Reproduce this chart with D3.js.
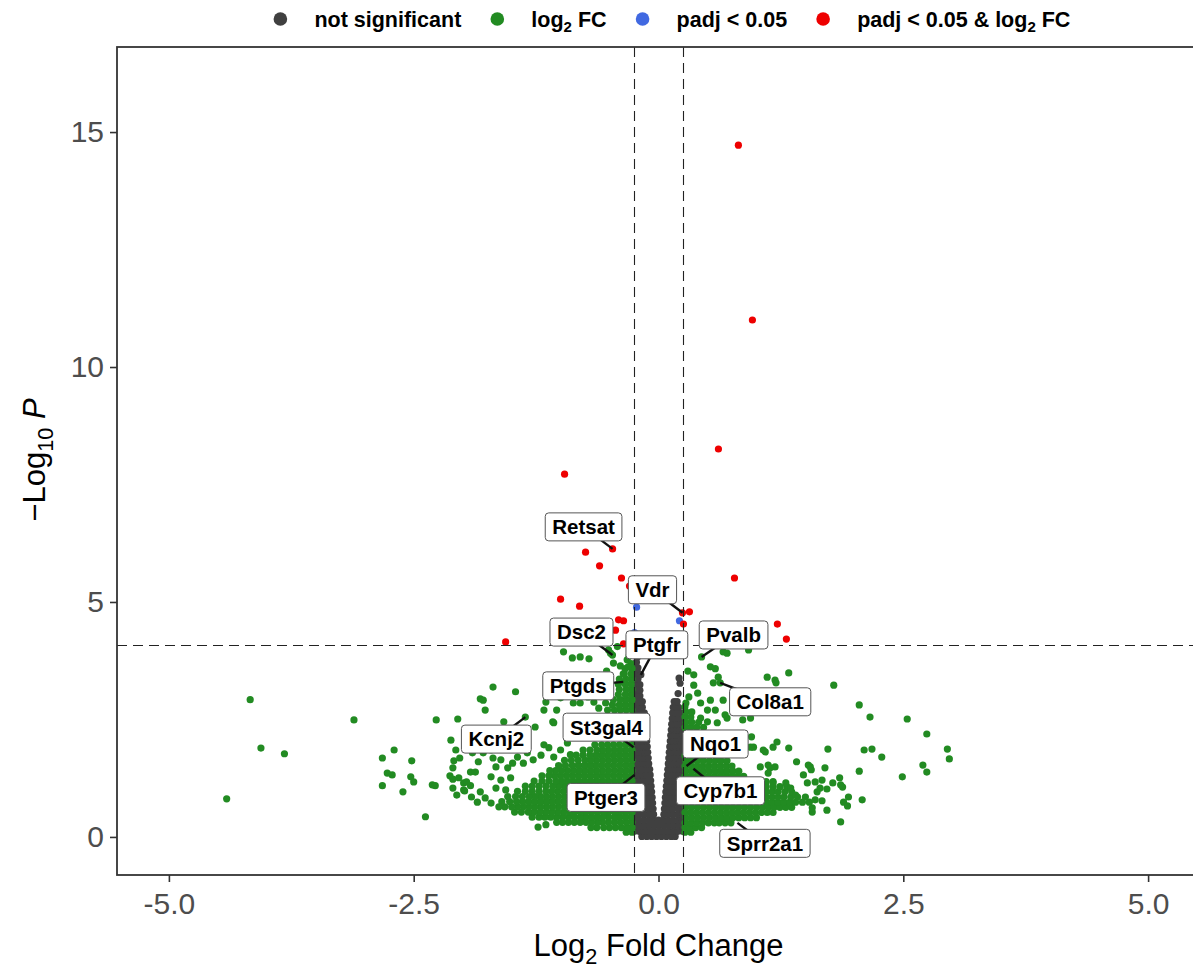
<!DOCTYPE html>
<html><head><meta charset="utf-8">
<script src="https://d3js.org/d3.v7.min.js"></script>
<style>
html,body{margin:0;padding:0;background:#fff;}
svg{display:block;font-family:"Liberation Sans",Arial,Helvetica,sans-serif;}
</style></head>
<body><svg id="chart" width="1193" height="969"></svg>
<script>
// ================= DATA =================
const xTicks = [-5, -2.5, 0, 2.5, 5];
const yTicks = [0, 5, 10, 15];
const fcCutoff = 0.25;
const pCutoff = 4.08;
const legendLabels = ["not significant", "log{2} FC", "padj < 0.05", "padj < 0.05 & log{2} FC"];
const groupColors = ["#404040", "#228B22", "#4169E1", "#EE0000"];

// not significant (grey): rows of [ -log10P, [log2FC ...] ]
const notSigRows = [
 [0.01,[-0.17,-0.12,-0.07,-0.02,0.03,0.08,0.13,0.17]],
 [0.12,[-0.245,-0.2,-0.15,-0.1,-0.05,0,0.05,0.1,0.15,0.2,0.245]],
 [0.24,[-0.24,-0.19,-0.14,-0.09,-0.04,0.01,0.06,0.11,0.16,0.21,0.245]],
 [0.36,[-0.245,-0.2,-0.15,-0.1,-0.05,0,0.05,0.1,0.15,0.2,0.245]],
 [0.48,[-0.24,-0.19,-0.14,-0.09,-0.05,0.055,0.1,0.15,0.2,0.245]],
 [0.6,[-0.245,-0.2,-0.15,-0.1,-0.055,0.06,0.105,0.15,0.2,0.245]],
 [0.72,[-0.24,-0.19,-0.145,-0.1,-0.06,0.065,0.11,0.155,0.2,0.245]],
 [0.84,[-0.245,-0.2,-0.155,-0.11,-0.065,0.07,0.115,0.16,0.2,0.245]],
 [0.96,[-0.24,-0.195,-0.15,-0.11,-0.07,0.075,0.12,0.16,0.205,0.245]],
 [1.08,[-0.245,-0.2,-0.16,-0.115,-0.075,0.08,0.12,0.165,0.205,0.245]],
 [1.2,[-0.24,-0.2,-0.16,-0.12,-0.08,0.085,0.125,0.165,0.205,0.245]],
 [1.32,[-0.245,-0.205,-0.165,-0.125,-0.085,0.09,0.13,0.17,0.21,0.245]],
 [1.44,[-0.24,-0.2,-0.165,-0.13,-0.09,0.095,0.135,0.17,0.21,0.245]],
 [1.56,[-0.245,-0.205,-0.17,-0.135,-0.1,0.1,0.135,0.175,0.21,0.245]],
 [1.68,[-0.24,-0.205,-0.17,-0.135,-0.105,0.105,0.14,0.175,0.21,0.245]],
 [1.8,[-0.245,-0.21,-0.175,-0.14,-0.11,0.11,0.145,0.18,0.215,0.245]],
 [1.92,[-0.24,-0.205,-0.175,-0.145,-0.115,0.115,0.15,0.18,0.215,0.245]],
 [2.04,[-0.245,-0.21,-0.18,-0.15,-0.12,0.12,0.15,0.185,0.215,0.245]],
 [2.16,[-0.24,-0.21,-0.18,-0.15,-0.125,0.125,0.155,0.185,0.215,0.245]],
 [2.28,[-0.245,-0.215,-0.185,-0.155,-0.13,0.13,0.16,0.19,0.22,0.245]],
 [2.4,[-0.24,-0.21,-0.185,-0.16,-0.135,0.135,0.165,0.19,0.22,0.245]],
 [2.52,[-0.245,-0.215,-0.19,-0.165,-0.14,0.14,0.17,0.2,0.225]],
 [2.64,[-0.24,-0.215,-0.19,-0.165,-0.145,0.145,0.175,0.2,0.23]],
 [2.76,[-0.245,-0.215,-0.19,-0.165,0.15,0.18,0.205]],
 [2.88,[-0.24,-0.21,-0.185,-0.165,0.16,0.19]],
 [3.0,[-0.245,-0.215,-0.19]],
 [3.12,[-0.24,-0.21,-0.19]],
 [3.24,[-0.245,-0.215,-0.19]],
 [3.36,[-0.24,-0.21]],
 [3.48,[-0.235,-0.205]],
 [3.6,[-0.24,-0.21]],
 [3.72,[-0.225]]
];
const notSigExtra = [[-0.18,3.45],[0.21,3.38],[0.22,3.27],[-0.21,3.84],[0.2,3.05]];

// log2 FC only (green): dense rows
const log2fcRows = [
 [0.1,[-0.27,-0.33]],
 [0.2,[-0.27,-0.32,-0.38,-0.44,-0.5,-0.56,-0.63,-0.69]],
 [0.31,[-0.27,-0.33,-0.39,-0.45,-0.51,-0.57,-0.62,-0.68,-0.74,-0.8,-0.86,-0.92,-0.98,-1.04]],
 [0.42,[-0.28,-0.34,-0.4,-0.45,-0.51,-0.57,-0.63,-0.69,-0.75,-0.8,-0.86,-0.92,-0.98,-1.04,-1.1,-1.16,-1.22,-1.29]],
 [0.53,[-0.27,-0.33,-0.39,-0.45,-0.51,-0.56,-0.62,-0.68,-0.74,-0.8,-0.86,-0.91,-0.97,-1.03,-1.09,-1.15,-1.21,-1.27,-1.33,-1.4,-1.47]],
 [0.64,[-0.9,-0.96,-1.02,-1.08,-1.14,-1.2,-1.26,-1.32,-1.38,-1.44,-1.5,-1.57]],
 [0.75,[-0.91,-0.97,-1.03,-1.09,-1.15,-1.21,-1.27,-1.33,-1.39,-1.45,-1.52,-1.6]],
 [0.86,[-0.9,-0.96,-1.02,-1.08,-1.14,-1.2,-1.26,-1.32,-1.39,-1.46,-1.54]],
 [0.97,[-0.91,-0.97,-1.03,-1.09,-1.15,-1.22,-1.29,-1.36,-1.44]],
 [1.08,[-0.9,-0.96,-1.02,-1.08,-1.15,-1.22,-1.29,-1.36]],
 [1.19,[-0.27,-0.33,-0.39,-0.45,-0.51,-0.57,-0.63,-0.69,-0.75,-0.81,-0.87,-0.93,-0.99,-1.05,-1.12,-1.19,-1.27]],
 [1.3,[-0.28,-0.34,-0.4,-0.46,-0.52,-0.58,-0.64,-0.7,-0.76,-0.82,-0.88,-0.94,-1.0,-1.06,-1.12,-1.19]],
 [1.41,[-0.27,-0.33,-0.39,-0.45,-0.51,-0.57,-0.63,-0.69,-0.75,-0.81,-0.87,-0.93,-0.99,-1.05,-1.11]],
 [1.52,[-0.28,-0.34,-0.4,-0.46,-0.52,-0.58,-0.64,-0.7,-0.76,-0.82,-0.88,-0.95,-1.02]],
 [1.63,[-0.27,-0.33,-0.39,-0.45,-0.51,-0.57,-0.63,-0.69,-0.75,-0.82,-0.89,-0.96]],
 [1.74,[-0.28,-0.34,-0.4,-0.46,-0.52,-0.58,-0.64,-0.7,-0.77,-0.84]],
 [1.85,[-0.27,-0.33,-0.39,-0.45,-0.51,-0.57,-0.63,-0.7,-0.77]],
 [1.96,[-0.28,-0.34,-0.4,-0.46,-0.52,-0.58,-0.65]],
 [2.7,[-0.27,-0.33,-0.39,-0.45,-0.52]],
 [2.81,[-0.28,-0.34,-0.4,-0.47]],
 [2.92,[-0.27,-0.33,-0.39,-0.46]],
 [3.03,[-0.28,-0.34,-0.41]],
 [3.14,[-0.27,-0.33,-0.4]],
 [3.25,[-0.28,-0.34,-0.41]],
 [3.36,[-0.27,-0.33,-0.4]],
 [3.47,[-0.28,-0.35]],
 [3.58,[-0.27,-0.34]],
 [3.69,[-0.28]],
 [0.1,[0.27,0.33]],
 [0.2,[0.27,0.32,0.38,0.44]],
 [0.3,[0.27,0.33,0.39,0.45,0.51,0.57,0.62,0.68,0.74]],
 [0.41,[0.28,0.34,0.4,0.46,0.52,0.58,0.64,0.7,0.76,0.82,0.88,0.94,1.0]],
 [0.52,[0.27,0.33,0.39,0.45,0.51,0.57,0.63,0.69,0.75,0.81,0.87,0.93,0.99,1.05,1.11,1.17]],
 [0.63,[0.28,0.34,0.4,0.46,0.52,0.58,0.64,0.7,0.76,0.82,0.88,0.94,1.0,1.06,1.12,1.18,1.24,1.3,1.36]],
 [0.74,[1.1,1.16,1.22,1.28,1.34,1.4,1.47,1.54]],
 [0.85,[1.1,1.16,1.22,1.28,1.35,1.42,1.5]],
 [0.96,[1.1,1.16,1.22,1.29,1.36]],
 [1.07,[1.1,1.17,1.24,1.31]],
 [1.18,[1.1,1.17]],
 [1.29,[0.27,0.33,0.39,0.45,0.51,0.57,0.63,0.69,0.75,0.81,0.87]],
 [1.4,[0.28,0.34,0.4,0.46,0.52,0.58,0.64,0.7,0.76,0.82]],
 [1.51,[0.27,0.33,0.39,0.45,0.51,0.57,0.63,0.69,0.75]],
 [1.62,[0.28,0.34,0.4,0.46,0.52,0.58,0.64,0.7]],
 [1.73,[0.27,0.33,0.39,0.45,0.52,0.6]],
 [2.33,[0.27,0.33,0.39,0.46]],
 [2.44,[0.28,0.34,0.41]],
 [2.55,[0.27,0.33]],
 [2.66,[0.28,0.34]],
 [2.77,[0.27]]
];
// log2 FC only (green): scattered points [log2FC, -log10P]
const log2fcExtra = [
 [-4.41,0.81],[-4.17,2.92],[-4.06,1.89],[-3.82,1.77],[-3.11,2.49],
 [-2.82,1.68],[-2.82,1.09],[-2.77,1.36],[-2.72,1.32],[-2.7,1.85],[-2.61,0.96],[-2.53,1.28],[-2.5,1.17],[-2.52,1.62],[-2.38,0.43],[-2.31,1.11],[-2.28,1.09],[-2.27,2.49],
 [-2.12,2.06],[-2.07,1.85],[-2.05,2.51],[-2.09,1.62],[-2.1,1.47],[-2.13,1.3],[-2.1,1.23],[-2.1,1.04],[-2.06,0.89],[-2.03,1.68],[-1.99,1.15],[-1.92,1.38],[-1.87,1.38],[-1.92,1.09],[-1.98,0.98],[-1.91,0.85],[-1.85,0.74],[-1.9,1.79],[-1.82,2.94],
 [-2.04,1.26],[-1.96,1.17],[-1.99,1.0],[-1.82,0.96],[-1.77,0.83],[-1.71,0.72],[-1.63,0.64],[-1.66,1.04],[-1.56,1.0],[-1.61,1.21],[-1.71,1.28],[-1.69,1.68],[-1.61,1.64],[-1.66,1.49],[-1.54,1.47],[-1.51,1.26],[-1.49,1.57],[-1.44,1.7],[-1.38,1.57],[-1.34,1.79],[-1.28,1.64],[-1.17,1.96],[-1.2,1.74],[-1.07,2.43],[-1.26,2.34],[-1.23,0.21],[-1.15,0.26],[-1.79,1.79],[-1.71,1.85],[-1.84,1.6],
 [-1.69,3.19],[-1.46,3.09],[-1.79,2.91],[-1.77,2.7],[-1.58,2.45],[-1.36,2.55],[-1.17,2.7],[-1.08,2.45],[-1.15,2.87],[-1.0,2.96],[-0.87,2.85],[-0.8,2.85],[-0.72,2.98],[-0.66,2.87],[-0.61,2.74],[-0.54,2.85],[-1.04,2.7],
 [-0.97,3.94],[-0.88,3.81],[-0.8,3.83],[-0.71,3.79],[-0.51,3.98],[-0.42,4.05],[-0.47,3.87],[-0.53,3.53],[-0.49,3.91],[-0.46,3.7],[-0.39,3.64],[-0.36,3.47],[-0.31,3.62],[-0.32,3.77],[-0.36,3.3],[-0.3,3.85],
 [-0.93,2.0],[-1.07,1.7],[-1.0,1.85],[-1.12,1.9],[-0.9,1.75],
 [0.3,3.53],[0.44,3.83],[0.53,3.62],[0.58,3.58],[0.61,3.4],[0.66,3.94],[0.7,3.91],[0.92,3.98],[1.11,3.4],[1.19,3.34],[1.33,3.49],[0.36,3.45],[0.56,3.28],[0.63,3.28],[1.2,3.28],[1.79,3.23],[2.05,2.81],[2.16,2.55],[2.54,2.51],[2.74,2.19],[2.95,1.87],[2.97,1.66],[2.7,1.53],[2.74,1.38],[2.49,1.28],[2.28,1.7],[2.18,1.87],[2.1,1.85],[2.05,1.4],
 [1.73,1.87],[1.7,1.47],[1.53,1.53],[1.56,1.43],[1.48,1.32],[1.52,1.15],[1.6,1.17],[1.67,1.21],[1.72,1.02],[1.62,0.96],[1.6,0.79],[1.67,0.77],[1.78,1.15],[1.85,1.26],[1.88,1.06],[1.89,0.74],[1.94,0.85],[1.93,0.66],[2.08,0.79],[1.86,0.32],[1.72,0.57],[1.57,0.53],[1.41,1.6],[1.3,1.15],[1.33,1.89],[1.21,2.02],[1.17,1.91],[1.12,1.53],[1.04,1.49],[1.14,1.47],[0.97,1.91],[1.07,1.85],
 [1.86,1.11],[1.65,1.04],[1.57,0.62],[1.55,1.49],[1.09,1.81],[1.12,1.36],[1.19,1.49],[1.35,1.04],[1.4,0.89],[1.17,1.15],
 [0.4,3.06],[0.31,2.98],[0.28,2.85],[0.43,2.85],[0.5,2.7],[0.58,2.7],[0.66,2.91],[0.43,2.53],[0.5,2.45],[0.6,2.43],[0.7,2.53],[0.86,2.49],[0.94,2.53],[0.95,2.13],[0.94,1.91],[0.53,2.91],[0.68,2.6],[0.36,3.23]
];
// padj < 0.05 only (blue)
const padjPoints = [[-0.224,4.89],[0.214,4.6],[-0.245,4.35]];
// padj < 0.05 & log2 FC (red)
const padjFcPoints = [
 [0.816,14.72],[0.959,11.0],[0.612,8.255],[-0.959,7.72],[-0.469,6.13],[-0.745,6.06],[-0.602,5.77],[-0.378,5.51],[0.776,5.51],
 [-1.0,5.06],[-0.806,4.91],[0.245,4.77],[0.316,4.79],[0.255,4.53],[-0.408,4.62],[-0.357,4.6],[-0.439,4.4],[1.214,4.53],[1.306,4.21],
 [-1.561,4.15],[-0.357,4.11],[-0.296,5.34]
];
// labelled genes and their coordinates
const labelGenes = ["Retsat","Vdr","Dsc2","Ptgfr","Pvalb","Ptgds","Col8a1","St3gal4","Kcnj2","Nqo1","Ptger3","Cyp7b1","Sprr2a1"];
const labelGeneFC = [-0.469,0.245,-0.47,-0.18,0.44,-0.36,0.63,-0.255,-1.36,0.286,-0.245,0.357,0.806];
const labelGeneP  = [6.13,4.77,3.87,3.45,3.83,3.3,3.28,1.91,2.55,1.51,1.32,1.45,0.30];

// ================= LAYOUT =================
const labelOffsets = [[-29,-22],[-30,-23],[-31,-23],[16,-30],[32,-22],[-45,4],[50,19],[-27,-20],[-29,22],[29,-22],[-28.5,22.5],[27,22],[27.5,20.5]];
const P = {left:117, top:47, right:1200, bottom:875};

const svg = d3.select("#chart");
const x = d3.scaleLinear().domain([-5.53, 5.53]).range([P.left, P.right]);
const y = d3.scaleLinear().domain([-0.81, 16.81]).range([P.bottom, P.top]);
const crisp = v => Math.round(v) + 0.5;

svg.append("defs").append("clipPath").attr("id","clip")
  .append("rect").attr("x",P.left).attr("y",P.top).attr("width",P.right-P.left).attr("height",P.bottom-P.top);

const rowsToPts = rows => rows.flatMap(([yy, xs]) => xs.map(xx => [xx, yy]));
const groups = [
  rowsToPts(notSigRows).concat(notSigExtra),
  rowsToPts(log2fcRows).concat(log2fcExtra),
  padjPoints,
  padjFcPoints
];

const pts = svg.append("g").attr("clip-path","url(#clip)");
groups.forEach((g, gi) => {
  pts.append("g").selectAll("circle").data(g).join("circle")
    .attr("cx", d => x(d[0])).attr("cy", d => y(d[1])).attr("r", 3.6)
    .attr("fill", groupColors[gi]);
});

// cutoff lines
const cut = svg.append("g").attr("clip-path","url(#clip)")
  .attr("stroke","#222").attr("stroke-width",1.1).attr("stroke-dasharray","10,6").attr("fill","none");
[-fcCutoff, fcCutoff].forEach(v => cut.append("line").attr("x1",crisp(x(v))).attr("x2",crisp(x(v))).attr("y1",P.top).attr("y2",P.bottom));
cut.append("line").attr("x1",P.left).attr("x2",P.right).attr("y1",crisp(y(pCutoff))).attr("y2",crisp(y(pCutoff)));

// panel border
svg.append("rect").attr("x",P.left).attr("y",P.top).attr("width",P.right-P.left).attr("height",P.bottom-P.top)
  .attr("fill","none").attr("stroke","#333").attr("stroke-width",1.8);

// axes
const gx = svg.append("g").attr("transform",`translate(0,${P.bottom})`)
  .call(d3.axisBottom(x).tickValues(xTicks).tickFormat(d => d.toFixed(1)).tickSize(7).tickPadding(11));
const gy = svg.append("g").attr("transform",`translate(${P.left},0)`)
  .call(d3.axisLeft(y).tickValues(yTicks).tickFormat(d => String(d)).tickSize(7).tickPadding(6));
[gx, gy].forEach(g => {
  g.attr("font-family", null).attr("font-size", 30);
  g.select(".domain").remove();
  g.selectAll(".tick line").attr("stroke","#333").attr("stroke-width",1.6);
  g.selectAll(".tick text").attr("fill","#4d4d4d");
});

function richText(sel, str, fs) {
  const parts = str.split(/\{|\}/);
  const sh = fs * 0.25;
  parts.forEach((s, i) => {
    if (!s) return;
    const t = sel.append("tspan").text(s);
    if (i % 2 === 1) t.attr("font-size", fs * 0.7).attr("dy", sh);
    else if (i > 0) t.attr("dy", -sh);
  });
}

// axis titles
const xt = svg.append("text").attr("x", x(0)).attr("y", 956).attr("text-anchor","middle")
  .attr("font-size", 31).attr("fill","#000");
richText(xt, "Log{2} Fold Change", 31);
const yt = svg.append("text").attr("transform","translate(45,460) rotate(-90)").attr("text-anchor","middle")
  .attr("font-size", 31).attr("fill","#000");
richText(yt, "\u2212Log{10} ", 31);
yt.append("tspan").attr("font-style","italic").text("P");

// legend
const lg = svg.append("g");
const lfs = 21.5;
const items = legendLabels.map((lab, i) => {
  const g = lg.append("g");
  g.append("circle").attr("r", 6.8).attr("fill", groupColors[i]).attr("cy", 19);
  const t = g.append("text").attr("font-size", lfs).attr("font-weight","bold").attr("y", 26.5).attr("x", 34);
  richText(t, lab, lfs);
  return {g, w: t.node().getComputedTextLength()};
});
let total = 6.8;
items.forEach((it, i) => { total += 34 + it.w + (i < items.length - 1 ? 36 : 0); });
let cx = 672 - total / 2 + 6.8;
items.forEach(it => { it.g.attr("transform", `translate(${cx},0)`); cx += 34 + it.w + 36; });

// gene labels
const lab = svg.append("g");
const lfs2 = 20.5;
labelGenes.forEach((gname, i) => {
  const px = x(labelGeneFC[i]), py = y(labelGeneP[i]);
  lab.append("line").attr("x1", px).attr("y1", py)
    .attr("x2", px + labelOffsets[i][0]).attr("y2", py + labelOffsets[i][1])
    .attr("stroke","#111").attr("stroke-width", 2.4);
});
labelGenes.forEach((gname, i) => {
  const px = x(labelGeneFC[i]), py = y(labelGeneP[i]);
  const cxl = px + labelOffsets[i][0], cyl = py + labelOffsets[i][1];
  const g = lab.append("g");
  const r = g.append("rect");
  const t = g.append("text").attr("x", cxl).attr("y", cyl + lfs2 * 0.36)
    .attr("text-anchor","middle").attr("font-size", lfs2).attr("font-weight","bold").attr("fill","#000").text(gname);
  const w = t.node().getComputedTextLength() + 14, h = 28;
  r.attr("x", cxl - w / 2).attr("y", cyl - h / 2).attr("width", w).attr("height", h)
    .attr("rx", 3.5).attr("fill","#fff").attr("stroke","#555").attr("stroke-width", 1);
});
</script>
</body></html>
